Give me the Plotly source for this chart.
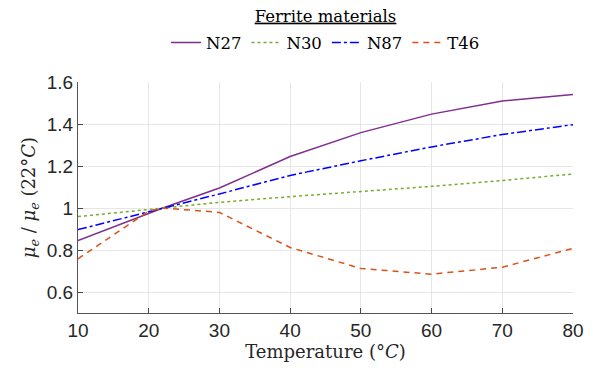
import plotly.graph_objects as go

temps = [10, 20, 22, 30, 40, 50, 60, 70, 80]
n27 = [0.845, 0.976, 1.0, 1.095, 1.245, 1.359, 1.447, 1.510, 1.540]
n30 = [0.959, 0.994, 1.0, 1.027, 1.054, 1.078, 1.103, 1.131, 1.162]
n87 = [0.897, 0.981, 1.0, 1.067, 1.155, 1.225, 1.291, 1.350, 1.397]
t46 = [0.758, 0.985, 1.0, 0.979, 0.812, 0.712, 0.685, 0.718, 0.808]

series = [
    ("N27", n27, "#7E2F8E", "solid"),
    ("N30", n30, "#77AC30", "dot"),
    ("N87", n87, "#0000FF", "dashdot"),
    ("T46", t46, "#D95319", "6px,5px"),
]

fig = go.Figure()
for name, vals, col, dash in series:
    fig.add_trace(go.Scatter(x=temps, y=vals, mode="lines", name=name,
                             line=dict(color=col, width=1.5, dash=dash)))

serif = "DejaVu Serif, Liberation Serif, serif"
sans = "Liberation Sans, Arial, sans-serif"

fig.update_layout(
    width=596, height=378,
    margin=dict(l=78, r=21, t=82, b=65),
    paper_bgcolor="white", plot_bgcolor="white",
    font=dict(family=sans, color="#262626"),
    title=dict(text="<u>Ferrite materials</u>", x=0.5, xanchor="center",
               y=0.958, yanchor="middle", xref="paper",
               font=dict(family=serif, size=16.5, color="black")),
    legend=dict(orientation="h", x=0.5, xanchor="center", y=1.17, yanchor="middle",
                font=dict(family=serif, size=16.5, color="black"),
                itemwidth=30, tracegroupgap=0, bgcolor="rgba(0,0,0,0)"),
    showlegend=True,
)
fig.update_xaxes(
    range=[10, 80], tickvals=[10, 20, 30, 40, 50, 60, 70, 80],
    showgrid=True, gridcolor="#e6e6e6", gridwidth=1,
    showline=True, linecolor="#555555", linewidth=1.2,
    ticks="inside", ticklen=5, tickcolor="#444444",
    tickfont=dict(family=sans, size=19, color="#262626"),
    zeroline=False,
    title=dict(text="Temperature (°<i>C</i>)", font=dict(family=serif, size=18, color="#262626"),
               standoff=4),
)
fig.update_yaxes(
    range=[0.5, 1.6], tickvals=[0.6, 0.8, 1.0, 1.2, 1.4, 1.6],
    ticktext=["0.6", "0.8", "1", "1.2", "1.4", "1.6"],
    showgrid=True, gridcolor="#e6e6e6", gridwidth=1,
    showline=True, linecolor="#555555", linewidth=1.2,
    ticks="inside", ticklen=5, tickcolor="#444444",
    tickfont=dict(family=sans, size=19, color="#262626"),
    zeroline=False,
    title=dict(text="<i>μ<sub>e</sub></i> / <i>μ<sub>e</sub></i> (22°<i>C</i>)",
               font=dict(family=serif, size=18, color="#262626"), standoff=6),
)

fig.write_html("out.html")
